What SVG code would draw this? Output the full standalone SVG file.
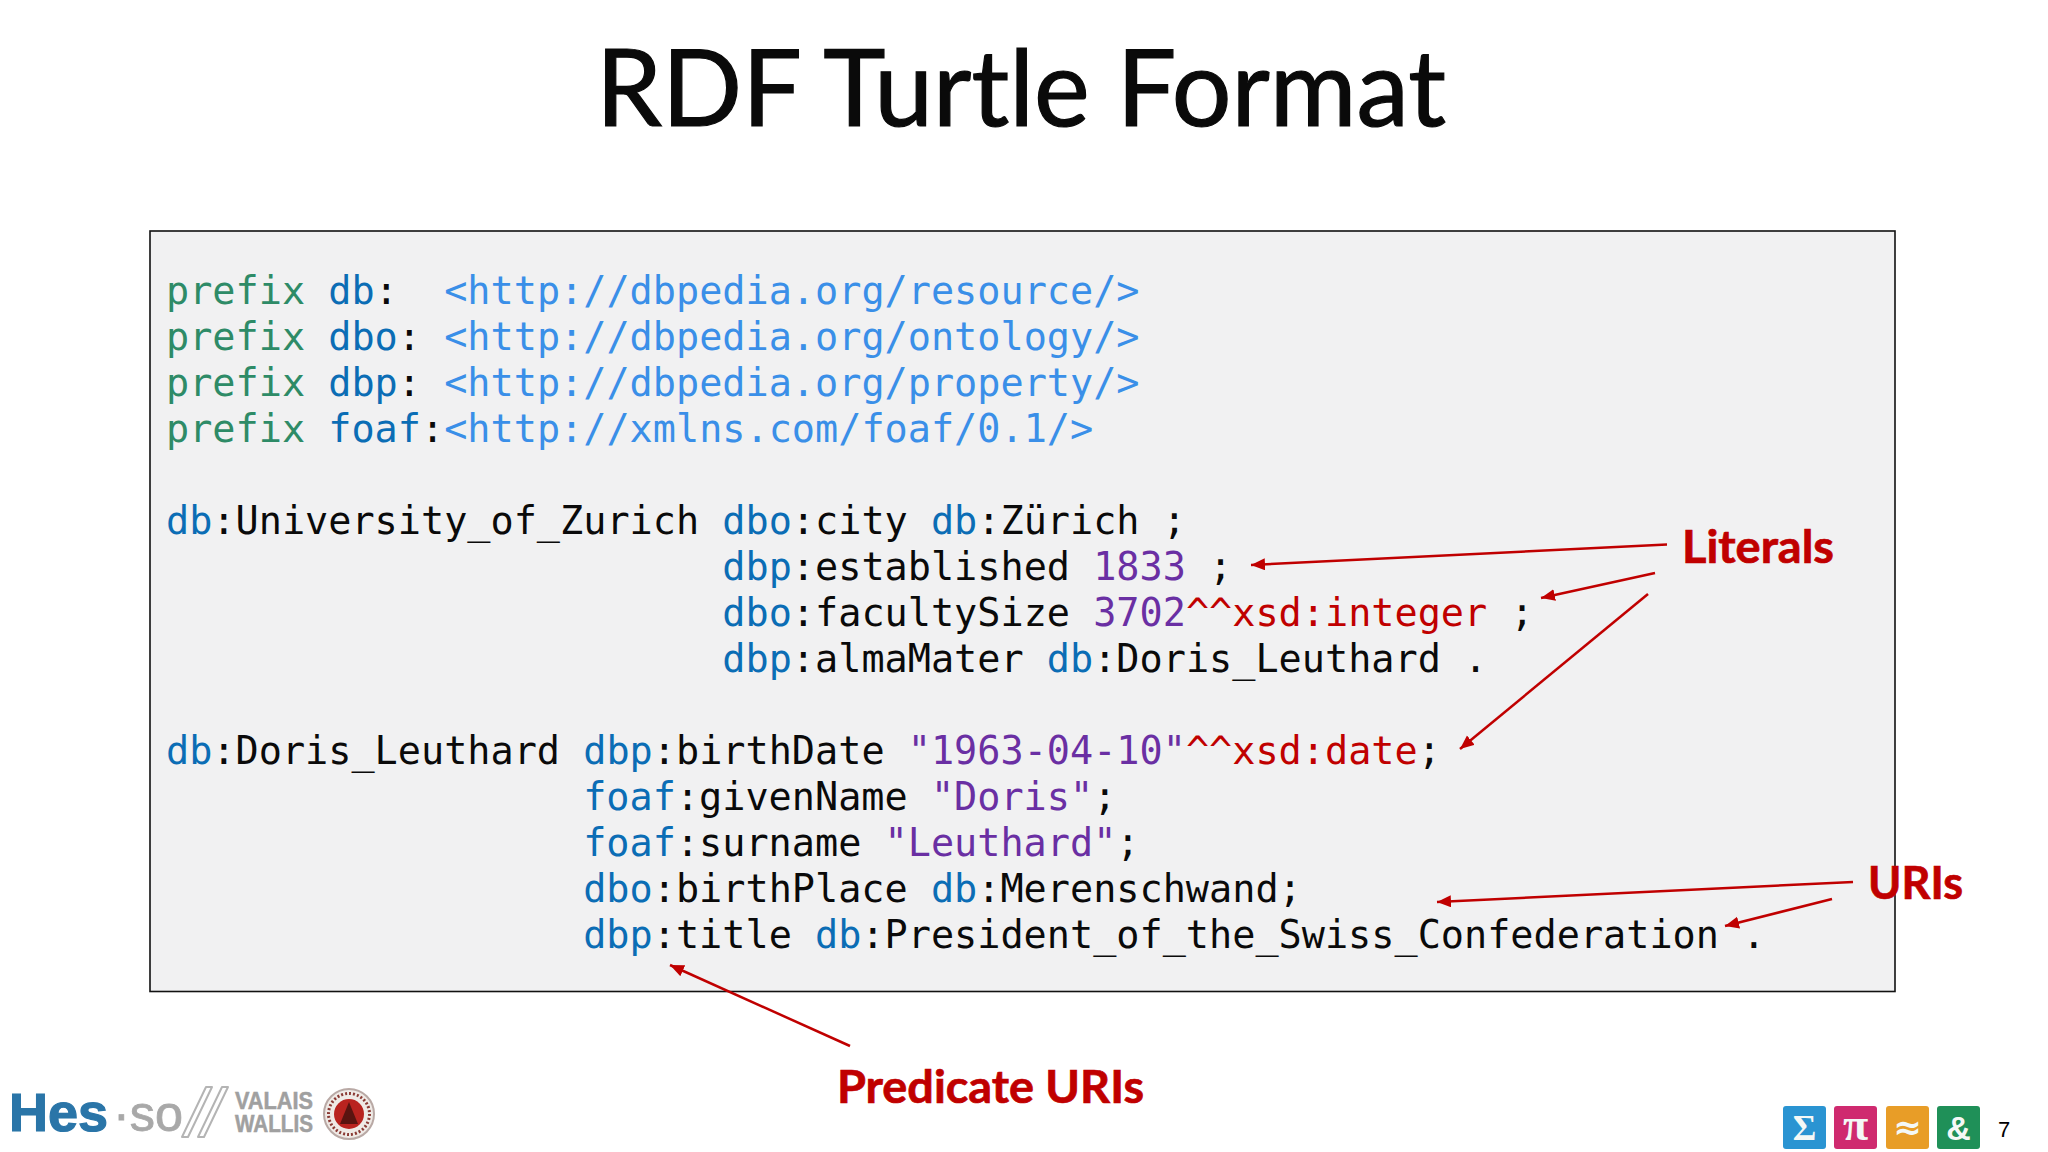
<svg xmlns="http://www.w3.org/2000/svg" width="2048" height="1152" viewBox="0 0 2048 1152">
<style>
.code{font-family:"DejaVu Sans Mono","Liberation Mono",monospace;font-size:38.5px;fill:#0a0a0a;white-space:pre}
.k{fill:#2e8b67}.p{fill:#0b6db5}.u{fill:#3a8fe8}.n{fill:#6a2fa3}.r{fill:#c00000}
.lab{font-family:"Lato","Open Sans",sans-serif;font-weight:700;font-size:46px;fill:#c00000;stroke:#c00000;stroke-width:.7}
.arr{stroke:#c00000;stroke-width:2.5;fill:none;marker-end:url(#ah)}
.tile{font-family:"Liberation Serif",serif;font-weight:700;fill:#f4f8f6;text-anchor:middle}
.logo{font-family:'Liberation Sans',sans-serif;font-weight:700}
</style>
<defs><marker id="ah" markerUnits="userSpaceOnUse" markerWidth="16" markerHeight="14" refX="14" refY="6" orient="auto"><path d="M0 0L14 6L0 12Z" fill="#c00000"/></marker></defs>
<rect width="2048" height="1152" fill="#fff"/>
<text id="title" x="1021" y="126" text-anchor="middle" textLength="850" lengthAdjust="spacingAndGlyphs" style="font-family:Lato,'Open Sans',sans-serif;font-size:106px;fill:#0a0a0a;stroke:#0a0a0a;stroke-width:1.2">RDF Turtle Format</text>
<g id="code-box">
<rect x="150" y="231" width="1745" height="760.500" fill="#f1f1f2" stroke="#111" stroke-width="1.6"/>
<text class="code" x="166" y="303.500"><tspan class="k">prefix </tspan><tspan class="p">db</tspan>:  <tspan class="u">&lt;http://dbpedia.org/resource/&gt;</tspan></text>
<text class="code" x="166" y="349.500"><tspan class="k">prefix </tspan><tspan class="p">dbo</tspan>: <tspan class="u">&lt;http://dbpedia.org/ontology/&gt;</tspan></text>
<text class="code" x="166" y="395.500"><tspan class="k">prefix </tspan><tspan class="p">dbp</tspan>: <tspan class="u">&lt;http://dbpedia.org/property/&gt;</tspan></text>
<text class="code" x="166" y="441.500"><tspan class="k">prefix </tspan><tspan class="p">foaf</tspan>:<tspan class="u">&lt;http://xmlns.com/foaf/0.1/&gt;</tspan></text>
<text class="code" x="166" y="533.500"><tspan class="p">db</tspan>:University_of_Zurich <tspan class="p">dbo</tspan>:city <tspan class="p">db</tspan>:Zürich ;</text>
<text class="code" x="722.300" y="579.500"><tspan class="p">dbp</tspan>:established <tspan class="n">1833</tspan> ;</text>
<text class="code" x="722.300" y="625.500"><tspan class="p">dbo</tspan>:facultySize <tspan class="n">3702</tspan><tspan class="r">^^xsd:integer</tspan> ;</text>
<text class="code" x="722.300" y="671.500"><tspan class="p">dbp</tspan>:almaMater <tspan class="p">db</tspan>:Doris_Leuthard .</text>
<text class="code" x="166" y="763.500"><tspan class="p">db</tspan>:Doris_Leuthard <tspan class="p">dbp</tspan>:birthDate <tspan class="n">"1963-04-10"</tspan><tspan class="r">^^xsd:date</tspan>;</text>
<text class="code" x="583.200" y="809.500"><tspan class="p">foaf</tspan>:givenName <tspan class="n">"Doris"</tspan>;</text>
<text class="code" x="583.200" y="855.500"><tspan class="p">foaf</tspan>:surname <tspan class="n">"Leuthard"</tspan>;</text>
<text class="code" x="583.200" y="901.500"><tspan class="p">dbo</tspan>:birthPlace <tspan class="p">db</tspan>:Merenschwand;</text>
<text class="code" x="583.200" y="947.500"><tspan class="p">dbp</tspan>:title <tspan class="p">db</tspan>:President_of_the_Swiss_Confederation .</text>
</g>
<g id="connectors">
<path class="arr" d="M1667 544.500L1251 565"/>
<path class="arr" d="M1655 573L1541 598"/>
<path class="arr" d="M1648 594L1460 749"/>
<path class="arr" d="M1853 882L1437 902"/>
<path class="arr" d="M1832 899L1725 926"/>
<path class="arr" d="M850 1046L670 965"/>
</g>
<g id="literals"><text class="lab" x="1682" y="563" textLength="152" lengthAdjust="spacingAndGlyphs">Literals</text></g>
<g id="uris"><text class="lab" x="1868" y="899" textLength="95" lengthAdjust="spacingAndGlyphs">URIs</text></g>
<g id="predicate-uris"><text class="lab" x="837" y="1103" textLength="307" lengthAdjust="spacingAndGlyphs">Predicate URIs</text></g>
<g id="logo">
<text class="logo" x="9" y="1131" textLength="99" lengthAdjust="spacingAndGlyphs" style="font-size:53px;fill:#2a75a8;stroke:#2a75a8;stroke-width:1.2">Hes</text>
<text class="logo" x="113" y="1131" textLength="70" lengthAdjust="spacingAndGlyphs" style="font-size:50px;font-weight:400;fill:#a8a8a8;stroke:#a8a8a8;stroke-width:.8">·so</text>
<g fill="none" stroke="#b4b4b4" stroke-width="2" stroke-linejoin="round"><path d="M206 1087h6l-24 50h-6zM222 1087h6l-24 50h-6z"/></g>
<text class="logo" x="235" y="1109" textLength="78" lengthAdjust="spacingAndGlyphs" style="font-size:23px;fill:#a0a0a0;stroke:#a0a0a0;stroke-width:.5">VALAIS</text>
<text class="logo" x="235" y="1132" textLength="78" lengthAdjust="spacingAndGlyphs" style="font-size:23px;fill:#a0a0a0;stroke:#a0a0a0;stroke-width:.5">WALLIS</text>
<circle cx="349" cy="1114" r="25" fill="#efeae6" stroke="#b9a9a5" stroke-width="2"/>
<circle cx="349" cy="1114" r="20.500" fill="none" stroke="#8a3a34" stroke-width="3" stroke-dasharray="2 2"/>
<circle cx="349" cy="1114" r="15" fill="#b9231f"/>
<path d="M340 1124L349 1102L358 1124Z" fill="#5a1410"/>
</g>
<g id="tile-sum"><rect x="1783" y="1106" width="43" height="43" rx="3" fill="#2a94d2"/><text class="tile" x="1804.500" y="1140" style="font-size:36px">Σ</text></g>
<g id="tile-pi"><rect x="1834" y="1106" width="43" height="43" rx="3" fill="#cf2a6f"/><text class="tile" x="1855.500" y="1140" style="font-size:46px">π</text></g>
<g id="tile-approx"><rect x="1886" y="1106" width="43" height="43" rx="3" fill="#e89d27"/><text class="tile" x="1907.500" y="1139" style="font-family:'DejaVu Sans',sans-serif;font-size:34px">≈</text></g>
<g id="tile-amp"><rect x="1937" y="1106" width="43" height="43" rx="3" fill="#1f9058"/><text class="tile" x="1958.500" y="1140" style="font-family:'Liberation Sans',sans-serif;font-size:34px">&amp;</text></g>
<text id="page" x="2004" y="1137" text-anchor="middle" style="font-family:'Liberation Sans',sans-serif;font-size:22px;fill:#000">7</text>
</svg>
